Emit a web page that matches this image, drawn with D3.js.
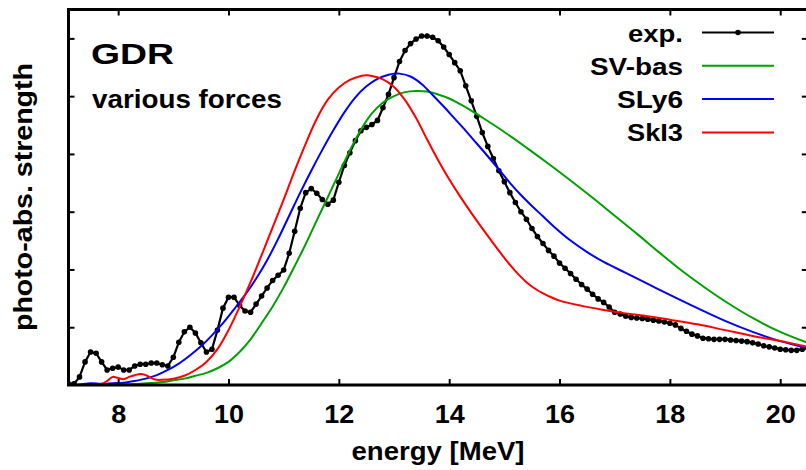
<!DOCTYPE html>
<html>
<head>
<meta charset="utf-8">
<script src="https://cdn.jsdelivr.net/npm/d3@7"></script>
<style>
  body { margin: 0; background: #fff; }
  svg { display: block; font-family: "Liberation Sans", Arial, Helvetica, sans-serif; font-weight: bold; }
</style>
</head>
<body>
<svg id="chart"></svg>
<script>
/* global d3 */

// tick positions (energy in MeV, strength in arbitrary units)
const xTicks = [8, 10, 12, 14, 16, 18, 20];
const yTicks = [1, 2, 3, 4, 5, 6];

const expEnergy = [
  7.1, 7.2, 7.3, 7.4, 7.5, 7.6, 7.7, 7.8, 7.9, 8.0,
  8.1, 8.2, 8.3, 8.4, 8.5, 8.6, 8.7, 8.8, 8.9, 9.0,
  9.1, 9.2, 9.3, 9.4, 9.5, 9.6, 9.7, 9.8, 9.9, 10.0,
  10.1, 10.2, 10.3, 10.4, 10.5, 10.6, 10.7, 10.8, 10.9, 11.0,
  11.1, 11.2, 11.3, 11.4, 11.5, 11.6, 11.7, 11.8, 11.9, 12.0,
  12.1, 12.2, 12.3, 12.4, 12.5, 12.6, 12.7, 12.8, 12.9, 13.0,
  13.1, 13.2, 13.3, 13.4, 13.5, 13.6, 13.7, 13.8, 13.9, 14.0,
  14.1, 14.2, 14.3, 14.4, 14.5, 14.6, 14.7, 14.8, 14.9, 15.0,
  15.1, 15.2, 15.3, 15.4, 15.5, 15.6, 15.7, 15.8, 15.9, 16.0,
  16.1, 16.2, 16.3, 16.4, 16.5, 16.6, 16.7, 16.8, 16.9, 17.0,
  17.1, 17.2, 17.3, 17.4, 17.5, 17.6, 17.7, 17.8, 17.9, 18.0,
  18.1, 18.2, 18.3, 18.4, 18.5, 18.6, 18.7, 18.8, 18.9, 19.0,
  19.1, 19.2, 19.3, 19.4, 19.5, 19.6, 19.7, 19.8, 19.9, 20.0,
  20.1, 20.2, 20.3, 20.4, 20.5
];
const expStrength = [
  0.02, 0.02, 0.14, 0.40, 0.57, 0.55, 0.40, 0.26, 0.29, 0.31,
  0.26, 0.26, 0.33, 0.36, 0.36, 0.38, 0.38, 0.35, 0.33, 0.48,
  0.74, 0.92, 1.00, 0.90, 0.73, 0.57, 0.62, 0.95, 1.33, 1.52,
  1.52, 1.38, 1.28, 1.26, 1.40, 1.54, 1.68, 1.81, 1.90, 1.99,
  2.28, 2.66, 3.06, 3.33, 3.40, 3.32, 3.21, 3.13, 3.20, 3.51,
  3.80, 4.02, 4.23, 4.40, 4.46, 4.51, 4.58, 4.80, 5.03, 5.32,
  5.60, 5.79, 5.91, 5.99, 6.04, 6.04, 6.02, 5.96, 5.85, 5.72,
  5.58, 5.44, 5.18, 4.92, 4.65, 4.37, 4.13, 3.92, 3.71, 3.52,
  3.33, 3.16, 3.00, 2.87, 2.71, 2.57, 2.45, 2.33, 2.23, 2.11,
  2.02, 1.93, 1.83, 1.74, 1.66, 1.57, 1.49, 1.43, 1.35, 1.26,
  1.23, 1.19, 1.17, 1.16, 1.15, 1.14, 1.12, 1.11, 1.09, 1.07,
  1.04, 0.98, 0.93, 0.88, 0.85, 0.81, 0.80, 0.79, 0.79, 0.79,
  0.78, 0.77, 0.76, 0.75, 0.73, 0.71, 0.68, 0.66, 0.64, 0.62,
  0.61, 0.60, 0.60, 0.62, 0.64
];

// SV-bas
const svbasEnergy = [7.1, 7.5, 8.0, 8.4, 8.8, 9.0, 9.2, 9.4, 9.6, 9.8, 10.0, 10.2, 10.4, 10.6, 10.8,
  11.0, 11.2, 11.4, 11.6, 11.8, 12.0, 12.2, 12.4, 12.6, 12.8, 13.0, 13.2, 13.4, 13.6, 13.8,
  14.0, 14.2, 14.4, 14.6, 15.0, 15.4, 15.8, 16.2, 16.6, 17.0, 17.4, 17.8, 18.2, 18.6, 19.0,
  19.5, 20.0, 20.5];
const svbasStrength = [0, 0, 0.01, 0.02, 0.05, 0.08, 0.11, 0.16, 0.21, 0.29, 0.40, 0.57, 0.79, 1.07, 1.36,
  1.69, 2.06, 2.44, 2.85, 3.25, 3.66, 4.06, 4.42, 4.70, 4.89, 5.00, 5.07, 5.09, 5.08, 5.03,
  4.96, 4.86, 4.75, 4.63, 4.38, 4.11, 3.83, 3.54, 3.24, 2.93, 2.62, 2.30, 1.99, 1.71, 1.45,
  1.16, 0.92, 0.73];

// SLy6
const sly6Energy = [7.1, 7.3, 7.5, 7.7, 7.9, 8.1, 8.3, 8.5, 8.7, 8.9, 9.1, 9.3, 9.5, 9.7, 9.9,
  10.1, 10.3, 10.5, 10.7, 10.9, 11.1, 11.3, 11.5, 11.7, 11.9, 12.1, 12.3, 12.5, 12.7, 12.9,
  13.0, 13.1, 13.3, 13.5, 13.7, 13.9, 14.1, 14.3, 14.5, 14.7, 14.9, 15.1, 15.3, 15.5, 15.7,
  15.9, 16.2, 16.5, 16.8, 17.2, 17.6, 18.0, 18.5, 19.0, 19.5, 20.0, 20.5];
const sly6Strength = [0, 0.01, 0.03, 0.02, 0.03, 0.04, 0.07, 0.11, 0.17, 0.26, 0.37, 0.51, 0.67, 0.86, 1.07,
  1.31, 1.56, 1.84, 2.16, 2.53, 2.93, 3.33, 3.71, 4.07, 4.41, 4.72, 4.98, 5.17, 5.30, 5.37,
  5.39, 5.39, 5.34, 5.21, 5.02, 4.82, 4.61, 4.40, 4.18, 3.96, 3.73, 3.50, 3.29, 3.10, 2.92,
  2.74, 2.50, 2.30, 2.13, 1.94, 1.75, 1.56, 1.33, 1.11, 0.92, 0.76, 0.64];

// SkI3
const ski3Energy = [7.1, 7.5, 7.7, 7.8, 7.9, 8.0, 8.1, 8.2, 8.3, 8.4, 8.5, 8.6, 8.7, 8.8, 9.0,
  9.2, 9.4, 9.6, 9.8, 10.0, 10.2, 10.4, 10.6, 10.8, 11.0, 11.2, 11.4, 11.6, 11.8, 12.0,
  12.2, 12.4, 12.5, 12.6, 12.8, 13.0, 13.2, 13.4, 13.6, 13.8, 14.0, 14.2, 14.4, 14.6, 14.8,
  15.0, 15.2, 15.4, 15.6, 15.8, 16.0, 16.4, 16.8, 17.2, 17.6, 18.0, 18.5, 19.0, 19.5, 20.0,
  20.5];
const ski3Strength = [0, 0, 0.02, 0.07, 0.14, 0.12, 0.10, 0.14, 0.17, 0.19, 0.17, 0.12, 0.09, 0.09, 0.11,
  0.16, 0.26, 0.40, 0.62, 0.95, 1.35, 1.78, 2.25, 2.73, 3.21, 3.71, 4.18, 4.61, 4.94, 5.15,
  5.28, 5.35, 5.36, 5.35, 5.29, 5.16, 4.93, 4.62, 4.25, 3.89, 3.56, 3.26, 2.98, 2.71, 2.45,
  2.20, 1.97, 1.78, 1.64, 1.54, 1.46, 1.37, 1.30, 1.24, 1.19, 1.13, 1.05, 0.95, 0.85, 0.76,
  0.66];

const theory = [
  { name: 'SV-bas', energy: svbasEnergy, strength: svbasStrength, color: '#00a000' },
  { name: 'SLy6', energy: sly6Energy, strength: sly6Strength, color: '#0000ff' },
  { name: 'SkI3', energy: ski3Energy, strength: ski3Strength, color: '#ff0000' },
];

const W = 806, H = 470;
const plotLeft = 68.5, plotRight = 807.8, plotTop = 9.5, plotBottom = 385;

const svg = d3.select('#chart').attr('width', W).attr('height', H);

const x = d3.scaleLinear().domain([7.1, 20.5]).range([plotLeft, plotRight]);
const y = d3.scaleLinear().domain([0, 6.5]).range([plotBottom, plotTop]);

svg.append('clipPath').attr('id', 'plotclip')
  .append('rect')
  .attr('x', plotLeft).attr('y', plotTop)
  .attr('width', plotRight - plotLeft).attr('height', plotBottom - plotTop);

const line = d3.line()
  .x(d => x(d[0]))
  .y(d => y(d[1]))
  .curve(d3.curveCatmullRom.alpha(0.5));

const plot = svg.append('g').attr('clip-path', 'url(#plotclip)');

// experiment: line with dots
const expData = expEnergy.map((e, i) => [e, expStrength[i]]);
plot.append('path')
  .datum(expData)
  .attr('fill', 'none')
  .attr('stroke', '#000')
  .attr('stroke-width', 2.2)
  .attr('d', d3.line().x(d => x(d[0])).y(d => y(d[1])));
plot.selectAll('circle.exp')
  .data(expData)
  .enter()
  .append('circle')
    .attr('class', 'exp')
    .attr('cx', d => x(d[0]))
    .attr('cy', d => y(d[1]))
    .attr('r', 2.8)
    .attr('fill', '#000');

theory.forEach(s => {
  plot.append('path')
    .datum(s.energy.map((e, i) => [e, s.strength[i]]))
    .attr('fill', 'none')
    .attr('stroke', s.color)
    .attr('stroke-width', 2)
    .attr('d', line);
});

// axes: ticks pointing inward on all four sides
const xAxis = svg.append('g')
  .attr('transform', `translate(0,${plotBottom})`)
  .call(d3.axisBottom(x).tickValues(xTicks).tickSize(-6).tickPadding(20).tickFormat(d3.format('d')));
xAxis.selectAll('text')
  .attr('fill', '#000')
  .style('font-size', '25px')
  .attr('textLength', d => String(d).length * 15)
  .attr('lengthAdjust', 'spacingAndGlyphs');

svg.append('g')
  .attr('transform', `translate(0,${plotTop})`)
  .call(d3.axisTop(x).tickValues(xTicks).tickSize(-6).tickFormat(''));

svg.append('g')
  .attr('transform', `translate(${plotLeft},0)`)
  .call(d3.axisLeft(y).tickValues(yTicks).tickSize(-6).tickFormat(''));

svg.append('g')
  .attr('transform', `translate(${plotRight},0)`)
  .call(d3.axisRight(y).tickValues(yTicks).tickSize(-6).tickFormat(''));

svg.selectAll('.tick line').attr('stroke', '#000').attr('stroke-width', 2);
svg.selectAll('.domain').remove();

// frame
svg.append('rect')
  .attr('x', plotLeft).attr('y', plotTop)
  .attr('width', plotRight - plotLeft).attr('height', plotBottom - plotTop)
  .attr('fill', 'none')
  .attr('stroke', '#000')
  .attr('stroke-width', 3);

// axis titles
svg.append('text')
  .attr('x', 438).attr('y', 460)
  .attr('text-anchor', 'middle')
  .style('font-size', '25px')
  .attr('textLength', 173)
  .attr('lengthAdjust', 'spacingAndGlyphs')
  .text('energy [MeV]');

svg.append('text')
  .attr('transform', 'translate(32,197) rotate(-90)')
  .attr('text-anchor', 'middle')
  .style('font-size', '26px')
  .attr('textLength', 268)
  .attr('lengthAdjust', 'spacingAndGlyphs')
  .text('photo-abs. strength');

// labels in the plot
svg.append('text')
  .attr('x', 91).attr('y', 64)
  .style('font-size', '30px')
  .attr('textLength', 83)
  .attr('lengthAdjust', 'spacingAndGlyphs')
  .text('GDR');

svg.append('text')
  .attr('x', 92).attr('y', 108)
  .style('font-size', '25px')
  .attr('textLength', 190)
  .attr('lengthAdjust', 'spacingAndGlyphs')
  .text('various forces');

// legend
const legendRows = [
  { name: 'exp.', color: '#000', width: 55, dot: true },
  ...theory.map((s, i) => ({ name: s.name, color: s.color, width: [93, 66, 56][i], dot: false })),
];
const legend = svg.append('g');
legendRows.forEach((r, i) => {
  const cy = 32.5 + i * 33.3;
  legend.append('text')
    .attr('x', 683).attr('y', cy + 9)
    .attr('text-anchor', 'end')
    .style('font-size', '24px')
    .attr('textLength', r.width)
    .attr('lengthAdjust', 'spacingAndGlyphs')
    .text(r.name);
  legend.append('line')
    .attr('x1', 702).attr('x2', 774)
    .attr('y1', cy).attr('y2', cy)
    .attr('stroke', r.color)
    .attr('stroke-width', 2);
  if (r.dot) {
    legend.append('circle')
      .attr('cx', 738).attr('cy', cy)
      .attr('r', 2.8)
      .attr('fill', '#000');
  }
});
</script>
</body>
</html>
